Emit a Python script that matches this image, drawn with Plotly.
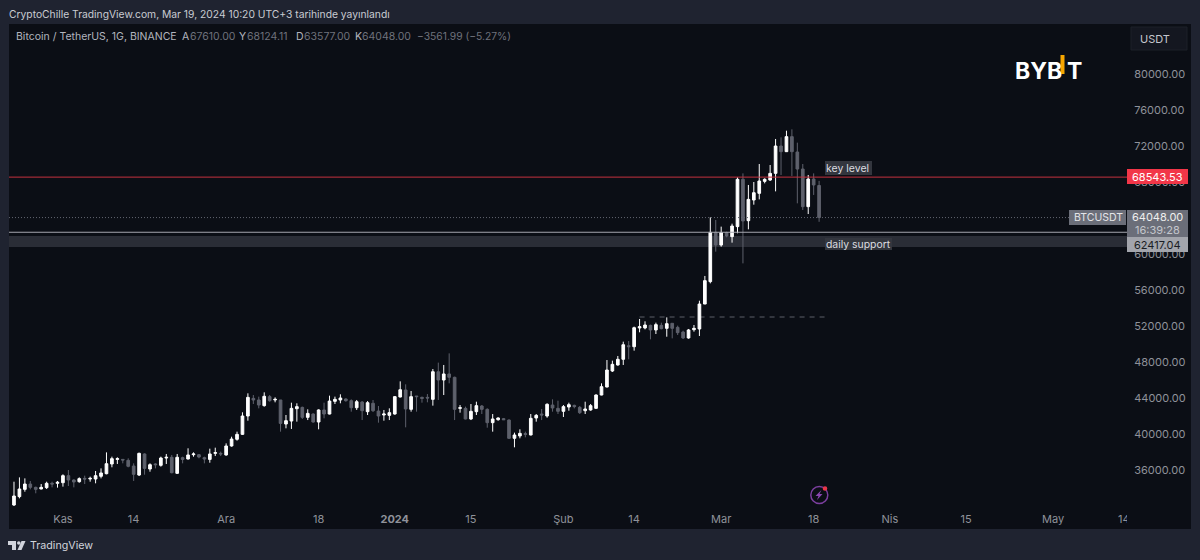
import pandas as pd
import plotly.graph_objects as go

# daily BTCUSDT candles, 2023-10-23 .. 2024-03-19
start_date = "2023-10-23"

opens = [32110, 33040, 33850, 34440, 34070, 33890, 34040, 34520, 34520, 34590,
         35370, 34890, 34700, 35070, 35000, 35000, 35300, 35590, 36670, 37180,
         37180, 37070, 36440, 35440, 37780, 36110, 36670, 36520, 37330, 37410,
         35630, 37370, 37220, 37700, 37700, 37370, 37180, 37850, 37850, 37670,
         38670, 39410, 39960, 42000, 43960, 43780, 43150, 44150, 43780, 43780,
         41110, 41440, 42810, 42960, 41850, 42220, 41330, 42670, 42220, 43630,
         43780, 43890, 43700, 42920, 43550, 42480, 43410, 42550, 42110, 42070,
         42220, 44110, 44890, 42740, 44220, 44070, 44070, 43850, 46920, 46000,
         46670, 46300, 42850, 42850, 41670, 42480, 43110, 42740, 41260, 41590,
         41700, 41550, 39520, 39780, 40040, 39890, 41780, 42220, 42000, 43220,
         42850, 42520, 43000, 43180, 42960, 42590, 42670, 42850, 44330, 45220,
         47000, 47670, 48300, 49810, 49700, 51780, 51780, 52070, 51560, 52070,
         51740, 52300, 51850, 51330, 50670, 51590, 51670, 54440, 56930, 62410,
         61000, 62370, 61930, 63040, 68300, 63700, 66000, 66740, 68070, 68220,
         68960, 72000, 71370, 73040, 71330, 69440, 65260, 68330, 67610]
highs = [34700, 35180, 35070, 34780, 34150, 34440, 34700, 34700, 34780, 35520,
         36000, 34960, 35180, 35370, 35260, 35890, 36180, 37960, 37480, 37410,
         37180, 37300, 36740, 37930, 37850, 36740, 36740, 37480, 37780, 37670,
         37780, 37480, 38410, 37960, 37780, 37480, 38370, 38480, 38040, 38960,
         39700, 40260, 42410, 44520, 44330, 44150, 44630, 44330, 44070, 43780,
         42110, 43480, 43410, 43040, 42740, 42290, 42740, 43480, 44260, 44150,
         44410, 43960, 43850, 43780, 43660, 43660, 43780, 43110, 42670, 42850,
         44220, 45850, 45520, 44780, 44220, 44150, 44440, 47220, 47930, 47670,
         48960, 46370, 43220, 43040, 43330, 43590, 43220, 42850, 42220, 41850,
         41780, 41630, 40150, 40520, 40260, 42220, 42220, 42780, 43410, 43850,
         43700, 43220, 43480, 43260, 43110, 43590, 43330, 44410, 45630, 48220,
         48150, 48670, 50260, 50330, 51930, 52780, 52520, 52150, 52370, 52370,
         52960, 52300, 52040, 51480, 51670, 52110, 54810, 57560, 64070, 63780,
         63040, 62480, 63370, 68520, 68960, 67670, 68000, 70000, 68410, 69890,
         72780, 72960, 73700, 73850, 72370, 70000, 68780, 68960, 68124.11]
lows = [32000, 32850, 33590, 33850, 33410, 33850, 33890, 34070, 34040, 34150,
        34220, 34070, 34590, 34440, 34700, 34520, 35070, 35520, 36300, 36670,
        36740, 36300, 34780, 35330, 35480, 35810, 36180, 36370, 36670, 35630,
        35560, 36740, 37180, 37480, 37300, 36740, 36810, 37550, 37550, 37590,
        38590, 39260, 39890, 41480, 43330, 42850, 43040, 43590, 43520, 40260,
        40630, 40560, 41370, 41670, 41550, 41260, 40520, 41740, 42180, 43330,
        43410, 43590, 42480, 42670, 41550, 42110, 42440, 41260, 41480, 41550,
        42150, 44070, 40740, 42480, 42480, 43480, 43520, 43150, 43780, 44330,
        45630, 41550, 42370, 41630, 41550, 42110, 42220, 40700, 40260, 41480,
        41550, 39440, 38520, 39520, 39630, 39850, 41370, 41550, 41810, 42480,
        42220, 41890, 42590, 42850, 42220, 42220, 42590, 42810, 44300, 45180,
        46890, 47590, 47670, 48300, 49260, 51300, 51630, 50520, 51110, 51630,
        50810, 50630, 51000, 50550, 50590, 51370, 50890, 54440, 56740, 60260,
        60810, 61850, 61260, 62300, 58960, 62740, 65480, 66070, 67850, 68110,
        66960, 68780, 71330, 68670, 65630, 64890, 64440, 66560, 63577]
closes = [33110, 33890, 34440, 34070, 33850, 34070, 34520, 34440, 34630, 35370,
          34890, 34670, 35040, 35000, 35070, 35370, 35670, 36700, 37260, 37260,
          37110, 36410, 35520, 37850, 36180, 36590, 36590, 37330, 37410, 35700,
          37410, 37180, 37670, 37780, 37440, 37220, 37780, 37930, 37780, 38670,
          39440, 39960, 42000, 44070, 43780, 43220, 44190, 43700, 43850, 41180,
          41480, 42850, 43040, 41850, 42290, 41330, 42670, 42220, 43660, 43850,
          44000, 43700, 42920, 43590, 42590, 43480, 42590, 42000, 42220, 42370,
          44150, 44920, 42780, 44150, 44150, 43960, 44000, 46920, 46000, 46670,
          46300, 42740, 42920, 41670, 42520, 43150, 42740, 41260, 41670, 41780,
          41590, 39520, 39890, 40070, 39960, 41740, 42070, 42110, 43300, 42890,
          42520, 43040, 43260, 43040, 42370, 42780, 43150, 44330, 45260, 47110,
          47740, 48300, 49920, 49700, 51810, 51930, 52110, 51560, 52150, 51700,
          52260, 51740, 51260, 50670, 51560, 51740, 54440, 57040, 62400, 61000,
          62370, 62000, 63110, 68300, 63670, 66070, 66810, 68110, 68300, 68960,
          72000, 71370, 73040, 71370, 69440, 65260, 68330, 67670, 64048]

x_tick_dates = ["2023-11-01", "2023-11-14", "2023-12-01", "2023-12-18", "2024-01-01",
                "2024-01-15", "2024-02-01", "2024-02-14", "2024-03-01", "2024-03-18",
                "2024-04-01", "2024-04-15", "2024-05-01", "2024-05-14"]
x_tick_text = ["Kas", "14", "Ara", "18", "<b>2024</b>", "15", "Şub", "14", "Mar", "18",
               "Nis", "15", "May", "14"]
# 64000 sits fully behind the last price tag in the reference
y_ticks = [36000, 40000, 44000, 48000, 52000, 56000, 60000, 68000, 72000, 76000, 80000]

key_level = 68543.53
support_level = 62417.04
support_zone = [60780, 62000]
last_close = 64048
old_high = 53000

W, H = 1200, 560
LEFT, RIGHT, TOP, BOTTOM = 9, 1127, 24, 506

FRAME = "#1f2330"
PANEL = "#0b0e15"
UP = "#ffffff"
DOWN = "#5e616c"
AXIS_TEXT = "#8f929a"
FONT = "Inter"


def fx(px):
    return (px - LEFT) / (RIGHT - LEFT)


def fy(py):
    return (BOTTOM - py) / (BOTTOM - TOP)


def box(x0, y0, x1, y1, color, layer="above", line=None):
    return dict(type="rect", xref="paper", yref="paper", layer=layer,
                x0=fx(x0), x1=fx(x1), y0=fy(y1), y1=fy(y0), fillcolor=color,
                line=dict(color=line or color, width=1 if line else 0))


def poly(points, color):
    d = "M" + " L".join(f"{fx(x):.5f},{fy(y):.5f}" for x, y in points) + " Z"
    return dict(type="path", xref="paper", yref="paper", layer="above", path=d,
                fillcolor=color, line=dict(width=0))


def ring(cx, cy, r, fill, line=None):
    return dict(type="circle", xref="paper", yref="paper", layer="above",
                x0=fx(cx - r), x1=fx(cx + r), y0=fy(cy + r), y1=fy(cy - r),
                fillcolor=fill, line=dict(color=line or fill, width=1.5 if line else 0))


def hline(y, color, dash="solid", x1=1.0, layer="above"):
    return dict(type="line", xref="paper", yref="y", layer=layer, x0=0, x1=x1, y0=y, y1=y,
                line=dict(color=color, width=1, dash=dash))


def note(px, py, text, size=11, color="#d1d4dc", anchor="left"):
    return dict(xref="paper", yref="paper", x=fx(px), y=fy(py), text=text, showarrow=False,
                xanchor=anchor, yanchor="middle", borderpad=0,
                font=dict(family=FONT, size=size, color=color))


dates = pd.date_range(start_date, periods=len(opens))

fig = go.Figure(
    go.Candlestick(
        x=dates, open=opens, high=highs, low=lows, close=closes,
        increasing=dict(line=dict(color=UP, width=1), fillcolor=UP),
        decreasing=dict(line=dict(color=DOWN, width=1), fillcolor=DOWN),
        whiskerwidth=0,
    )
)

shapes = [
    box(LEFT, TOP, 1191, 529, PANEL, layer="below"),
    dict(type="rect", xref="paper", yref="y", layer="below", x0=0, x1=1,
         y0=support_zone[0], y1=support_zone[1], fillcolor="#2a2d36", line=dict(width=0)),
    hline(last_close, "#62656f", dash="1px,2px", x1=fx(1069)),
    hline(support_level, "#a5a7ae"),
    hline(key_level, "#c4323f"),
    dict(type="line", xref="x", yref="y", layer="below", x0="2024-02-15", x1="2024-03-20",
         y0=old_high, y1=old_high, line=dict(color="#5c5f68", width=1, dash="5px,5px")),
    # label backgrounds
    box(825, 161, 872, 175, "#33363e"),
    box(825, 238, 892, 250, "#33363e"),
    box(1069, 210, 1126, 225, "#6b6e79"),
    box(1127, 169, 1188, 184, "#f23648"),
    box(1127, 210, 1188, 237, "#6b6e79"),
    box(1127, 237, 1188, 252, "#a3a5ac"),
    # clips the last date label at the price scale
    box(1127, 508, 1145, 528, PANEL),
    # USDT button
    box(1131, 27, 1187, 50, "#141720", line="#1d2029"),
    # Bybit I
    box(1060.5, 55, 1064.5, 74, "#f7a600"),
    # lightning icon
    ring(819.3, 495, 8.5, "rgba(0,0,0,0)", line="#7c3f9f"),
    poly([(821.5, 490), (815.5, 496), (818.5, 496), (817, 500), (822.5, 494), (819.5, 494)], "#8a46b0"),
    ring(825, 488.5, 2.3, "#e8364a"),
    # TradingView logo
    poly([(8, 541), (16, 541), (16, 550), (12, 550), (12, 545), (8, 545)], "#d1d4dc"),
    ring(18.8, 543, 1.8, "#d1d4dc"),
    poly([(21.5, 541), (25.5, 541), (21.5, 550), (17.5, 550)], "#d1d4dc"),
]

dim = "#6f727c"
annotations = [
    note(8, 14, "CryptoChille TradingView.com, Mar 19, 2024 10:20 UTC+3 tarihinde yayınlandı", 10.3, "#c9cbd2"),
    note(15, 36, "Bitcoin / TetherUS, 1G, BINANCE", 10.5, "#b2b5be"),
    note(181, 36, "A", 10.5, "#b2b5be"),
    note(189, 36, "67610.00", 10.5, dim),
    note(238, 36, "Y", 10.5, "#b2b5be"),
    note(246, 36, "68124.11", 10.5, dim),
    note(295, 36, "D", 10.5, "#b2b5be"),
    note(303, 36, "63577.00", 10.5, dim),
    note(354, 36, "K", 10.5, "#b2b5be"),
    note(361, 36, "64048.00", 10.5, dim),
    note(416, 36, "−3561.99 (−5.27%)", 10.3, dim),
    note(1139, 39, "USDT", 11, "#c4c6cd"),
    note(1014, 70.5, "<b>BYB</b>", 23, "#ffffff"),
    note(1066, 70.5, "<b>T</b>", 23, "#ffffff"),
    note(825, 168, "key level", 10.5, "#dcdde0"),
    note(825, 244, "daily support", 10.4, "#dcdde0"),
    note(1073, 217.5, "BTCUSDT", 10.5, "#e4e5e8"),
    note(1157.5, 177, "68543.53", 11, "#ffffff", anchor="center"),
    note(1157.5, 217, "64048.00", 11, "#eeeeee", anchor="center"),
    note(1157.5, 230, "16:39:28", 11, "#c4c6cc", anchor="center"),
    note(1157.5, 244.5, "62417.04", 11, "#1b1d24", anchor="center"),
    note(29, 545.5, "TradingView", 10.7, "#d1d4dc"),
]

fig.update_layout(
    width=W,
    height=H,
    autosize=False,
    margin=dict(l=LEFT, r=W - RIGHT, t=TOP, b=H - BOTTOM, pad=0),
    paper_bgcolor=FRAME,
    plot_bgcolor="rgba(0,0,0,0)",
    font=dict(family=FONT, size=11, color=AXIS_TEXT),
    showlegend=False,
    shapes=shapes,
    annotations=annotations,
    xaxis=dict(
        type="date",
        range=["2023-10-22 02:00", "2024-05-14 14:24"],
        rangeslider=dict(visible=False),
        tickmode="array",
        tickvals=x_tick_dates,
        ticktext=x_tick_text,
        ticks="outside",
        ticklen=3,
        tickcolor="rgba(0,0,0,0)",
        showgrid=False,
        zeroline=False,
        showline=False,
    ),
    yaxis=dict(
        side="right",
        range=[32000, 85556],
        tickmode="array",
        tickvals=y_ticks,
        tickformat=".2f",
        ticks="outside",
        ticklen=4,
        tickcolor="rgba(0,0,0,0)",
        showgrid=False,
        zeroline=False,
        showline=False,
    ),
)

fig.write_html("out.html", config={"displayModeBar": False},
               post_script="document.body.style.margin='0'")
